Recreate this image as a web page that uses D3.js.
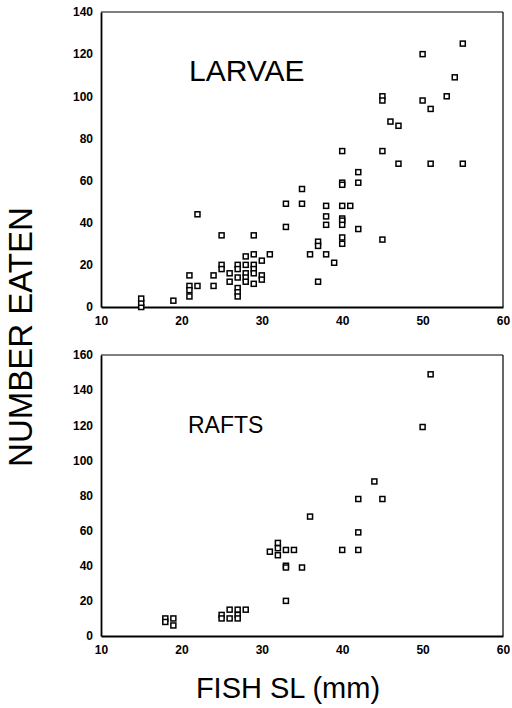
<!DOCTYPE html>
<html><head><meta charset="utf-8">
<script src="https://cdn.jsdelivr.net/npm/d3@7/dist/d3.min.js"></script>
<style>body{margin:0;background:#fff}svg{display:block}text{font-family:"Liberation Sans",Arial,sans-serif;fill:#000}</style>
</head><body>
<script>
// Larvae panel: fish standard length (mm) and number eaten
const larvaeX = [15,15,15,19,21,21,21,21,22,22,24,24,25,25,25,26,26,27,27,27,27,27,27,28,28,28,28,28,29,29,29,29,29,29,30,30,30,31,
  33,33,35,35,36,37,37,37,38,38,38,38,39,40,40,40,40,40,40,40,40,40,41,42,42,42,45,45,45,45,46,47,47,50,50,51,51,53,54,55,55];
const larvaeY = [0,2,4,3,15,10,8,5,44,10,15,10,34,20,18,16,12,20,18,14,9,7,5,24,20,16,14,12,34,25,20,18,16,11,22,15,13,25,
  49,38,56,49,25,31,29,12,48,43,39,25,21,74,59,58,48,42,41,39,33,30,48,64,59,37,100,98,74,32,88,86,68,120,98,94,68,100,109,125,68];
// Rafts panel
const raftsX = [18,18,19,19,25,25,26,26,27,27,27,28,31,32,32,32,33,33,33,33,34,35,36,40,42,42,42,44,45,50,51];
const raftsY = [10,8,10,6,12,10,15,10,15,12,10,15,48,53,50,46,49,40,39,20,49,39,68,49,78,59,49,88,78,119,149];
const xTicks = [10,20,30,40,50,60];
const larvaeYTicks = [0,20,40,60,80,100,120,140];
const raftsYTicks = [0,20,40,60,80,100,120,140,160];

const W = 512, H = 708;
const svg = d3.select("body").append("svg").attr("width", W).attr("height", H);

function panel(xs, ys, yTicks, yMax, top, bottom, title, tx, ty, tsize) {
  const x = d3.scaleLinear().domain([10, 60]).range([101, 503]);
  const y = d3.scaleLinear().domain([0, yMax]).range([bottom, top]);
  const g = svg.append("g");
  // frame
  g.append("line").attr("x1", 101).attr("x2", 503).attr("y1", top).attr("y2", top).attr("stroke", "#000").attr("stroke-width", 1.2);
  g.append("line").attr("x1", 503).attr("x2", 503).attr("y1", top).attr("y2", bottom).attr("stroke", "#000").attr("stroke-width", 1.2);
  const ax = g.append("g").attr("transform", `translate(0,${bottom})`)
    .call(d3.axisBottom(x).tickValues(xTicks).tickSize(0).tickPadding(9).tickFormat(d3.format("d")));
  const ay = g.append("g").attr("transform", `translate(101,0)`)
    .call(d3.axisLeft(y).tickValues(yTicks).tickSize(0).tickPadding(8).tickFormat(d3.format("d")));
  [ax, ay].forEach(a => {
    a.select(".domain").attr("stroke", "#000").attr("stroke-width", 1.8);
    a.selectAll("text").attr("font-size", 12).attr("font-weight", "bold")
      .attr("font-family", '"Liberation Sans",Arial,sans-serif').attr("fill", "#000");
  });
  g.selectAll("rect.pt").data(xs.map((v, i) => [v, ys[i]])).enter().append("rect")
    .attr("class", "pt")
    .attr("x", d => x(d[0]) - 2.5).attr("y", d => y(d[1]) - 2.5)
    .attr("width", 5).attr("height", 5)
    .attr("fill", "#fff").attr("stroke", "#000").attr("stroke-width", 1.5);
  g.append("text").attr("x", tx).attr("y", ty).attr("font-size", tsize).text(title);
}

panel(larvaeX, larvaeY, larvaeYTicks, 140, 12, 307, "LARVAE", 189, 81, 30);
panel(raftsX, raftsY, raftsYTicks, 160, 355, 636, "RAFTS", 188, 433, 23);

svg.append("text").attr("transform", "translate(32,337) rotate(-90)").attr("text-anchor", "middle")
  .attr("font-size", 33).text("NUMBER EATEN");
svg.append("text").attr("x", 288).attr("y", 698).attr("text-anchor", "middle")
  .attr("font-size", 29).text("FISH SL (mm)");
</script>
</body></html>
